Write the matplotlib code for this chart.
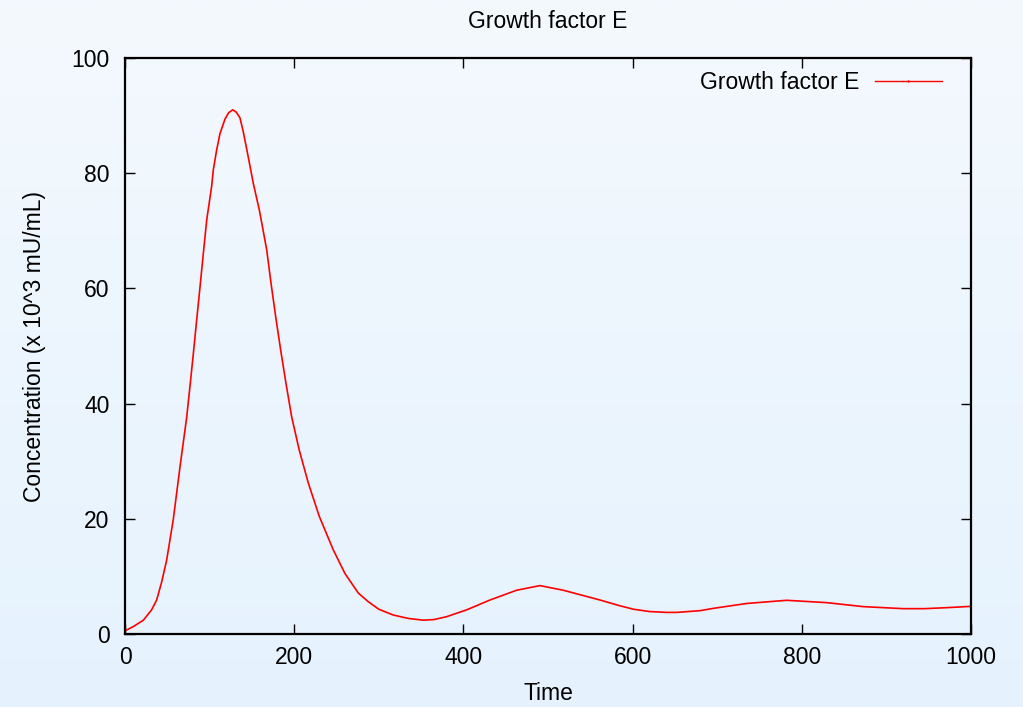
import numpy as np
import matplotlib.pyplot as plt
from matplotlib.lines import Line2D

plt.rcParams['font.family'] = ['Liberation Sans', 'DejaVu Sans']
plt.rcParams['font.size'] = 16.5

# growth factor E over time (x 10^3 mU/mL)
time = [0, 2, 10, 21.7, 31.5, 37.4, 43.3, 49.2, 57, 65, 72.9, 76.8, 80.8, 84.7,
        88.7, 92.6, 96.6, 102.4, 104.4, 108.3, 112.3, 118.2, 122.5, 127.3, 131.5,
        135.9, 139.8, 145.7, 151.7, 158.8, 167.5, 172.6, 178.1, 184, 190.3, 197,
        206, 216.7, 229.7, 246.2, 260, 275.8, 287.6, 300, 317, 335, 352.6, 365,
        380, 404, 431.4, 463, 490.5, 518, 561.5, 585, 601, 620, 640, 652, 679.7,
        695.4, 734.8, 782, 829, 872.8, 920, 945, 971, 1000]
conc = [0.6, 0.7, 1.3, 2.4, 4.2, 5.9, 9.0, 12.8, 19.8, 29.0, 37.6, 43.0, 48.7,
        54.5, 60.3, 66.1, 71.9, 77.7, 80.6, 84.0, 86.9, 89.4, 90.5, 91.0, 90.6,
        89.6, 87.2, 82.8, 78.2, 73.6, 66.7, 60.9, 55.1, 49.3, 43.5, 37.7, 31.9,
        26.2, 20.4, 14.6, 10.5, 7.1, 5.6, 4.3, 3.3, 2.7, 2.4, 2.5, 3.0, 4.2,
        5.9, 7.6, 8.4, 7.6, 5.9, 4.9, 4.3, 3.9, 3.75, 3.75, 4.05, 4.45, 5.3,
        5.85, 5.45, 4.75, 4.4, 4.4, 4.57, 4.8]

xticks = [0, 200, 400, 600, 800, 1000]
yticks = [0, 20, 40, 60, 80, 100]

fig = plt.figure(figsize=(10.23, 7.07), dpi=100)

# soft blue vertical gradient behind everything
bg = fig.add_axes([0, 0, 1, 1], zorder=-1)
grad = np.linspace(0, 1, 256).reshape(-1, 1)
top = np.array([244, 249, 254]) / 255
bottom = np.array([229, 242, 253]) / 255
img = top + (bottom - top) * grad[:, :, None]
bg.imshow(img, aspect='auto', extent=[0, 1, 0, 1])
bg.axis('off')

ax = fig.add_axes([125 / 1023, 73 / 707, 846 / 1023, 576 / 707])
ax.patch.set_alpha(0)
ax.plot(time, conc, color='red', lw=1.2, solid_joinstyle='round')

ax.set_xlim(0, 1000)
ax.set_ylim(0, 100)
ax.set_xticks(xticks)
ax.set_yticks(yticks)
ax.tick_params(direction='in', length=7, width=1, top=True, right=True,
               colors='black', labelsize=16.5)
ax.tick_params(axis='x', pad=9)
ax.tick_params(axis='y', pad=11)
for s in ax.spines.values():
    s.set_linewidth(1.6)

ax.set_xlabel('Time', labelpad=9)
ax.set_ylabel('Concentration (x 10^3 mU/mL)', labelpad=18)
fig.text(548 / 1023, 1 - 21 / 707, 'Growth factor E', ha='center', va='center',
         fontsize=16.5)

handle = Line2D([], [], color='red', lw=1.0, marker='+', markersize=2)
ax.legend([handle], ['Growth factor E'], loc='upper right', frameon=False,
          markerfirst=False, handlelength=2.9, handletextpad=0.7,
          bbox_to_anchor=(1 - 11 / 846, 1 + 5 / 576), borderaxespad=0.4,
          fontsize=16.5)

fig.savefig('out.png', dpi=100)
